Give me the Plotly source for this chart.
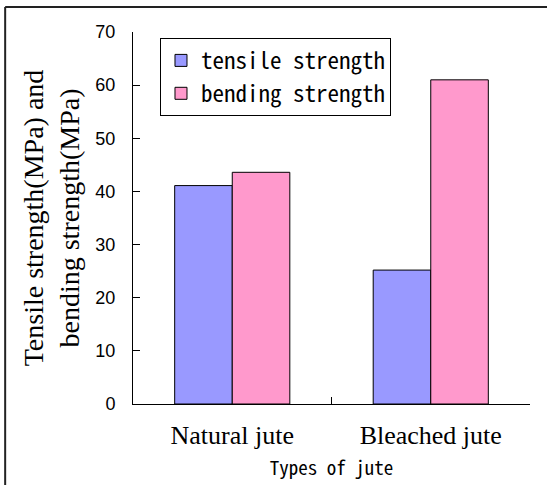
import plotly.graph_objects as go

categories = ["Natural jute", "Bleached jute"]
tensile = [41.1, 25.2]
bending = [43.6, 61.0]
yticks = [0, 10, 20, 30, 40, 50, 60, 70]

fig = go.Figure()
fig.add_trace(go.Bar(name="tensile strength", x=categories, y=tensile,
                     marker=dict(color="#9999FF", line=dict(color="black", width=1))))
fig.add_trace(go.Bar(name="bending strength", x=categories, y=bending,
                     marker=dict(color="#FF99CC", line=dict(color="black", width=1))))

gothic = "Noto Sans Mono CJK JP, DejaVu Sans Mono, monospace"
serif = "Liberation Serif, Times New Roman, serif"

fig.update_layout(
    width=547, height=485,
    margin=dict(l=133, r=17, t=32, b=81),
    paper_bgcolor="white", plot_bgcolor="white",
    barmode="group", bargap=0.42, bargroupgap=0,
    showlegend=True,
    legend=dict(x=0.068, y=0.984, xanchor="left", yanchor="top",
                bordercolor="black", borderwidth=1, bgcolor="white",
                font=dict(family=gothic, size=23, color="black"),
                tracegroupgap=0),
    xaxis=dict(showline=True, linecolor="black", linewidth=1, automargin=False,
               ticks="inside", tickson="boundaries", ticklen=7, tickcolor="black",
               tickfont=dict(family=serif, size=26, color="black"),
               ticklabelstandoff=8,
               title=dict(text="Types of jute", font=dict(family=gothic, size=19, color="black"),
                          standoff=12)),
    yaxis=dict(range=[0, 70], tickvals=yticks, showline=True, linecolor="black", linewidth=1,
               automargin=False,
               ticks="inside", ticklen=7, tickcolor="black", showgrid=False, zeroline=False,
               tickfont=dict(family="Liberation Sans, Arial, sans-serif", size=18, color="black"),
               ticklabelstandoff=13,
               title=dict(text="Tensile strength(MPa) and<br>bending strength(MPa)",
                          font=dict(family=serif, size=28, color="black"), standoff=7)),
)

# outer frame (top and left edges only visible in the reference)
fig.add_shape(type="line", xref="paper", yref="paper",
              x0=-0.322, x1=1.05, y0=1.067, y1=1.067,
              line=dict(color="#222222", width=2))
fig.add_shape(type="line", xref="paper", yref="paper",
              x0=-0.322, x1=-0.322, y0=1.067, y1=-0.3,
              line=dict(color="#222222", width=2))

fig.write_html("out.html")
